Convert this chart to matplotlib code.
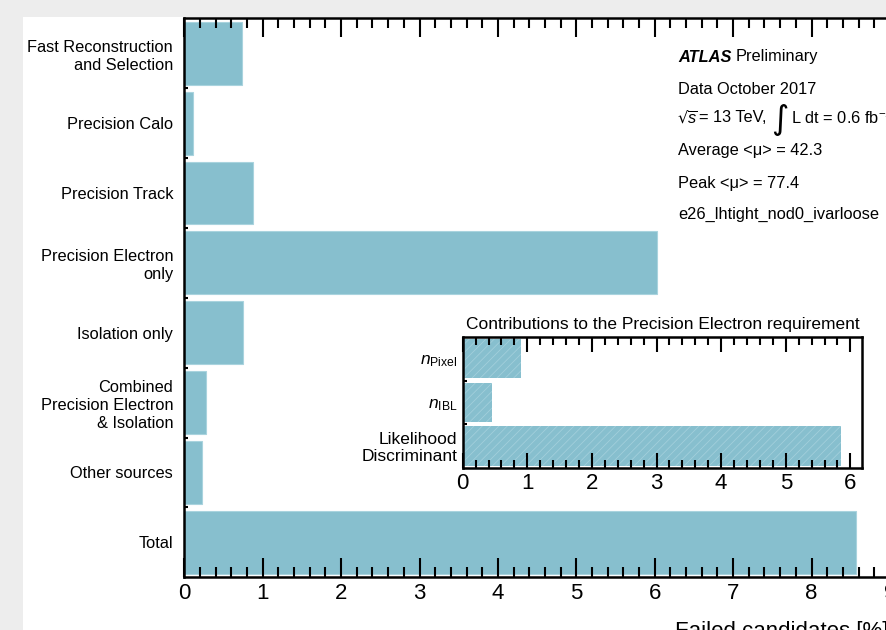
import numpy as np
import matplotlib
matplotlib.use("Agg")
import matplotlib.pyplot as plt
from matplotlib.patches import Rectangle
from matplotlib.ticker import MultipleLocator, FixedLocator

plt.rcParams["font.family"] = ["Liberation Sans", "DejaVu Sans"]
plt.rcParams["mathtext.fontset"] = "custom"
plt.rcParams["mathtext.rm"] = "Liberation Sans"
plt.rcParams["mathtext.it"] = "Liberation Sans:italic"
plt.rcParams["hatch.linewidth"] = 0.6

# trigger failure breakdown, top to bottom
categories = ["Fast Reconstruction\nand Selection", "Precision Calo", "Precision Track",
              "Precision Electron\nonly", "Isolation only",
              "Combined\nPrecision Electron\n& Isolation", "Other sources", "Total"]
failed = [0.73, 0.11, 0.88, 6.03, 0.75, 0.28, 0.22, 8.57]

# breakdown of the precision electron step
sub_categories = [r"$n_{\mathrm{Pixel}}$", r"$n_{\mathrm{IBL}}$", "Likelihood\nDiscriminant"]
sub_failed = [0.90, 0.46, 5.86]

info_lines = [
    "Data October 2017",
    None,  # energy / luminosity line, built separately
    "Average <\u03bc> = 42.3",
    "Peak <\u03bc> = 77.4",
    "e26_lhtight_nod0_ivarloose",
]

bar_color = "#87bfce"
W, H = 887, 630
fs = 11.8

fig = plt.figure(figsize=(W / 100, H / 100), dpi=100)
fig.patch.set_facecolor("#ededed")
fig.add_artist(Rectangle((23 / W, 0), 1, 1 - 17 / H, transform=fig.transFigure,
                         facecolor="white", edgecolor="none", zorder=-10))


def px_axes(x0, y0, x1, y1):
    # pixel box (top-left origin) -> figure fraction
    return [x0 / W, 1 - y1 / H, (x1 - x0) / W, (y1 - y0) / H]


def style_axes(ax, n, major_len, minor_len):
    ax.set_ylim(n - 0.5, -0.5)
    ax.set_yticks(np.arange(n))
    ax.yaxis.set_minor_locator(FixedLocator(np.arange(n - 1) + 0.5))
    ax.xaxis.set_major_locator(MultipleLocator(1))
    ax.xaxis.set_minor_locator(MultipleLocator(0.2))
    ax.tick_params(axis="x", which="both", direction="in", top=True, width=1.5,
                   labelsize=16, pad=4)
    ax.tick_params(axis="x", which="major", length=major_len)
    ax.tick_params(axis="x", which="minor", length=minor_len)
    ax.tick_params(axis="y", which="major", length=0)
    ax.tick_params(axis="y", which="minor", direction="in", length=3, width=1.5)
    for s in ax.spines.values():
        s.set_linewidth(1.8)


# main panel
ax = fig.add_axes(px_axes(184.3, 18.3, 184.3 + 9.6 * 78.4, 577.3))
y = np.arange(len(categories))
ax.barh(y, failed, height=0.9, color=bar_color, edgecolor="#a9d3de", linewidth=0.8)
ax.set_xlim(0, 9.6)
style_axes(ax, len(categories), 14, 7)
ax.set_yticklabels(categories, fontsize=fs, linespacing=1.25)
ax.tick_params(axis="y", which="major", pad=8)
fig.text(675 / W, 1 - 621 / H, "Failed candidates [%]", fontsize=16, va="top")

# labels block
x0 = 678 / W
renderer = fig.canvas.get_renderer()


def after(t, gap=0):
    # figure-fraction x just right of a text artist
    bb = t.get_window_extent(renderer)
    return (bb.x1 + gap) / W


t = fig.text(x0, 1 - 57 / H, "ATLAS", fontsize=fs, va="center",
             fontweight="bold", fontstyle="italic")
fig.text(after(t, 4), 1 - 57 / H, "Preliminary", fontsize=fs, va="center")

for yy, line in zip([89, 118, 151, 183, 214], info_lines):
    if line is not None:
        fig.text(x0, 1 - yy / H, line, fontsize=fs, va="center")

t = fig.text(x0, 1 - 118 / H, "\u221a", fontsize=fs, va="center",
             family=["DejaVu Sans", "Liberation Sans"])
t = fig.text(after(t, -1), 1 - 118 / H, r"$\overline{s}$", fontsize=fs, va="center")
t = fig.text(after(t, 1), 1 - 118 / H, "= 13 TeV,", fontsize=fs, va="center")
t = fig.text(after(t, 5), 1 - 120 / H, "\u222b", fontsize=24, va="center",
             family=["DejaVu Sans", "Liberation Sans"])
fig.text(after(t, 3), 1 - 118 / H, "L dt = 0.6 fb$^{-1}$", fontsize=fs, va="center")

# inset panel
ins = fig.add_axes(px_axes(462.7, 337, 862, 467.7))
yi = np.arange(len(sub_categories))
ins.barh(yi, sub_failed, height=0.9, color=bar_color, edgecolor="#a2cfdb",
         linewidth=0, hatch="////")
ins.set_xlim(0, 6.18)
style_axes(ins, len(sub_categories), 11, 5.5)
ins.set_yticklabels(sub_categories, fontsize=12.5, linespacing=1.15)
ins.tick_params(axis="y", which="major", pad=4)
ins.set_title("Contributions to the Precision Electron requirement", fontsize=12.5, pad=6)

fig.savefig("out.png", dpi=100, facecolor=fig.get_facecolor())
